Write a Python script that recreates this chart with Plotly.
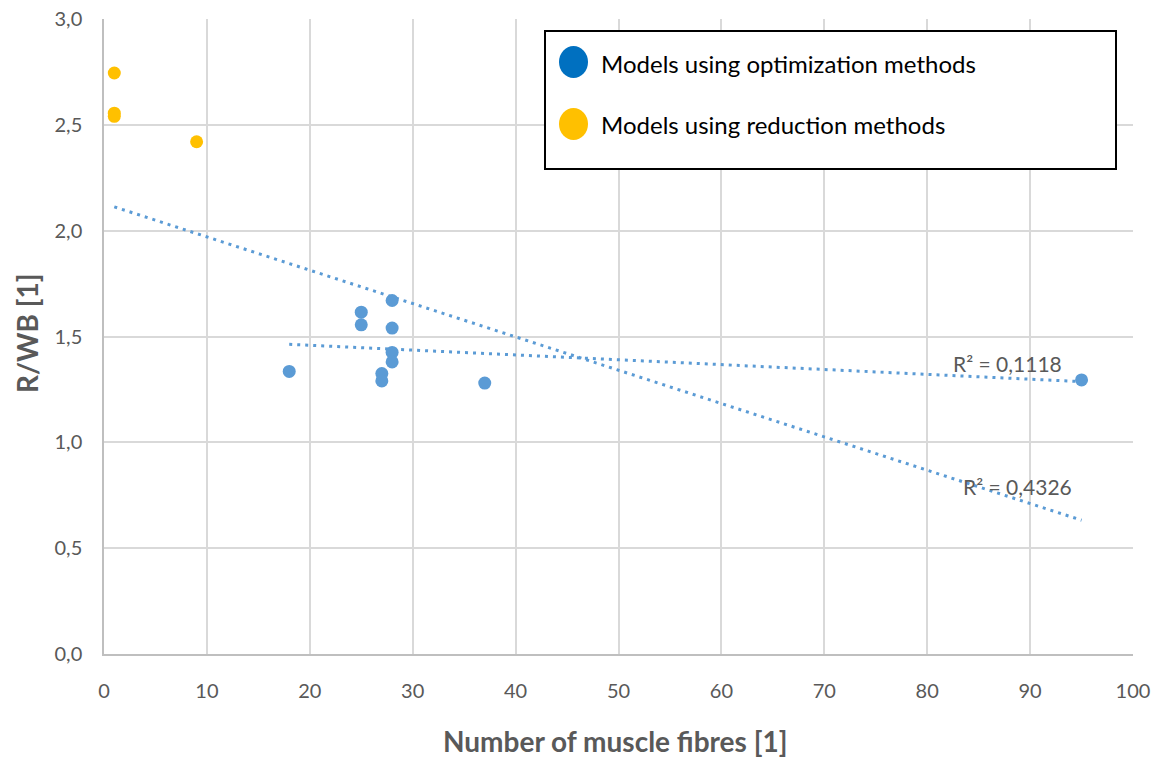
import numpy as np
import plotly.graph_objects as go

# Models using optimization methods
opt_fibres = [18, 25, 25, 28, 28, 28, 28, 27, 27, 37, 95]
opt_ratio = [1.335, 1.615, 1.555, 1.67, 1.54, 1.425, 1.38, 1.325, 1.29, 1.28, 1.295]

# Models using reduction methods
red_fibres = [1, 1, 1, 9]
red_ratio = [2.745, 2.555, 2.54, 2.42]

x_ticks = list(range(0, 101, 10))
y_ticks = [0.0, 0.5, 1.0, 1.5, 2.0, 2.5, 3.0]
r2_labels = ["R² = 0,1118", "R² = 0,4326"]

BLUE = "#5B9BD5"
YELLOW = "#FFC000"
GREY_TXT = "#595959"
FONT = "Lato, Carlito, 'Open Sans', sans-serif"

# plot area in pixels (1160 x 760 canvas)
L, R, T, B = 104, 1133, 19, 654
PW, PH = R - L, B - T


def px(xp):
    return (xp - L) / PW


def py(yp):
    return (B - yp) / PH


def linear_fit(xs, ys):
    slope, intercept = np.polyfit(np.asarray(xs, float), np.asarray(ys, float), 1)
    x0, x1 = min(xs), max(xs)
    return [x0, x1], [intercept + slope * x0, intercept + slope * x1]


all_x = opt_fibres + red_fibres
all_y = opt_ratio + red_ratio
tx_all, ty_all = linear_fit(all_x, all_y)
tx_opt, ty_opt = linear_fit(opt_fibres, opt_ratio)

fig = go.Figure()

# Linear trend lines
trend_line = dict(color=BLUE, width=3, dash="3px,5px")
fig.add_trace(go.Scatter(x=tx_opt, y=ty_opt, mode="lines", line=trend_line,
                         showlegend=False, hoverinfo="skip"))
fig.add_trace(go.Scatter(x=tx_all, y=ty_all, mode="lines", line=trend_line,
                         showlegend=False, hoverinfo="skip"))

fig.add_trace(go.Scatter(x=opt_fibres, y=opt_ratio, mode="markers",
                         name="Models using optimization methods",
                         marker=dict(color=BLUE, size=13), showlegend=False))
fig.add_trace(go.Scatter(x=red_fibres, y=red_ratio, mode="markers",
                         name="Models using reduction methods",
                         marker=dict(color=YELLOW, size=13), showlegend=False))

# R² annotations
fig.add_annotation(x=87.8, y=1.372, text=r2_labels[0], showarrow=False,
                   font=dict(size=21, color=GREY_TXT, family=FONT))
fig.add_annotation(x=88.8, y=0.79, text=r2_labels[1], showarrow=False,
                   font=dict(size=21, color=GREY_TXT, family=FONT))

# Legend box
fig.add_shape(type="rect", xref="paper", yref="paper",
              x0=px(545), x1=px(1116), y0=py(169), y1=py(31),
              line=dict(color="black", width=2), fillcolor="white", layer="above")
legend_items = [("Models using optimization methods", "#0070C0", 62),
                ("Models using reduction methods", "#FFC000", 124)]
for label, col, yc in legend_items:
    fig.add_shape(type="circle", xref="paper", yref="paper",
                  x0=px(559), x1=px(588), y0=py(yc + 16), y1=py(yc - 16),
                  line=dict(width=0), fillcolor=col, layer="above")
    fig.add_annotation(xref="paper", yref="paper", x=px(599), y=py(yc + 1),
                       xanchor="left", yanchor="middle", text=label, showarrow=False,
                       font=dict(size=24, color="black", family=FONT))

# Axis titles
fig.add_annotation(xref="paper", yref="paper", x=px(615), y=py(741),
                   text="<b>Number of muscle fibres [1]</b>", showarrow=False,
                   xanchor="center", yanchor="middle",
                   font=dict(size=28, color=GREY_TXT, family=FONT))
fig.add_annotation(xref="paper", yref="paper", x=px(27), y=py(333),
                   text="<b>R/WB [1]</b>", showarrow=False, textangle=-90,
                   xanchor="center", yanchor="middle",
                   font=dict(size=28, color=GREY_TXT, family=FONT))

fig.update_layout(
    width=1160, height=760,
    margin=dict(l=L, r=1160 - R, t=T, b=760 - B),
    paper_bgcolor="white", plot_bgcolor="white",
    separators=", ",
    font=dict(family=FONT, color=GREY_TXT),
    showlegend=False,
)
fig.update_xaxes(range=[0, 100], tickvals=x_ticks, ticks="", automargin=False,
                 ticklabelstandoff=18,
                 showgrid=True, gridcolor="#D9D9D9", gridwidth=1.5,
                 showline=True, linecolor="#BFBFBF", linewidth=1.5, zeroline=False,
                 tickfont=dict(size=20, color=GREY_TXT, family=FONT))
fig.update_yaxes(range=[0, 3.0], tickvals=y_ticks, tickformat=".1f", ticks="",
                 automargin=False, ticklabelstandoff=16,
                 showgrid=True, gridcolor="#D9D9D9", gridwidth=1.5,
                 showline=True, linecolor="#BFBFBF", linewidth=1.5, zeroline=False,
                 tickfont=dict(size=20, color=GREY_TXT, family=FONT))

fig.write_html("out.html")
